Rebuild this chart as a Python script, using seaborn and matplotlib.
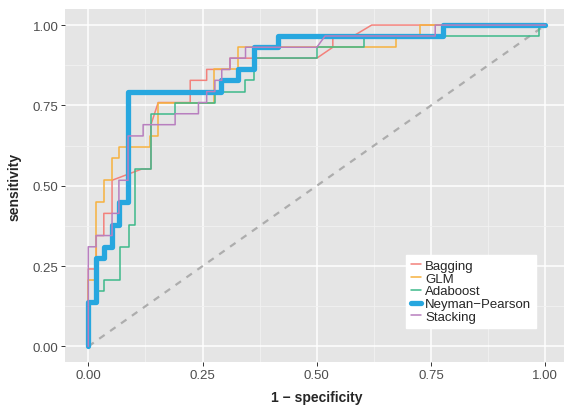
import matplotlib
matplotlib.use("Agg")
import pandas as pd
import matplotlib.pyplot as plt
import seaborn as sns

# curvas ROC (1 - especificidade, sensibilidade)
modelos = ['Bagging', 'GLM', 'Adaboost', 'Neyman−Pearson', 'Stacking']
cores = ['#F3817B', '#F6B23E', '#3DB98A', '#27A7DF', '#B87FBF']

bagging_x = [0, 0, 0.0175, 0.0175, 0.034, 0.034, 0.052, 0.052, 0.117, 0.137, 0.137, 0.153,
             0.223, 0.223, 0.259, 0.259, 0.31, 0.31, 0.5, 0.535, 0.535, 0.58, 0.62, 1]
bagging_y = [0, .241, .241, .345, .345, .414, .414, .517, .552, .552, .690, .759,
             .759, .828, .828, .862, .862, .897, .897, .931, .966, .966, 1, 1]

glm_x = [0, 0, 0.0175, 0.0175, 0.034, 0.034, 0.052, 0.052, 0.068, 0.068, 0.136, 0.136,
         0.153, 0.153, 0.276, 0.276, 0.327, 0.327, 0.673, 0.673, 0.725, 0.725, 1]
glm_y = [0, .207, .207, .448, .448, .517, .517, .586, .586, .621, .621, .655,
         .655, .759, .759, .862, .862, .931, .931, .966, .966, 1, 1]

ada_x = [0, 0, 0.0175, 0.0175, 0.0335, 0.0335, 0.069, 0.069, 0.088, 0.088, 0.103, 0.103,
         0.137, 0.137, 0.19, 0.19, 0.277, 0.277, 0.343, 0.343, 0.362, 0.362, 0.5, 0.5,
         0.604, 0.604, 0.985, 0.985, 1]
ada_y = [0, .138, .138, .172, .172, .207, .207, .310, .310, .379, .379, .552,
         .552, .724, .724, .759, .759, .793, .793, .828, .828, .897, .897, .931,
         .931, .966, .966, 1, 1]

np_x = [0, 0, 0.0175, 0.0175, 0.035, 0.035, 0.052, 0.052, 0.068, 0.068, 0.087, 0.087,
        0.29, 0.29, 0.328, 0.328, 0.362, 0.362, 0.415, 0.415, 0.776, 0.776, 1]
np_y = [0, .138, .138, .276, .276, .310, .310, .379, .379, .448, .448, .793,
        .793, .828, .828, .862, .862, .931, .931, .966, .966, 1, 1]

stack_x = [0, 0, 0.017, 0.017, 0.052, 0.052, 0.067, 0.067, 0.087, 0.087, 0.12, 0.12,
           0.19, 0.19, 0.241, 0.241, 0.259, 0.259, 0.277, 0.277, 0.292, 0.292, 0.31, 0.31,
           0.344, 0.344, 0.5, 0.518, 0.759, 0.759, 1]
stack_y = [0, .310, .310, .345, .345, .414, .414, .517, .517, .655, .655, .690,
           .690, .724, .724, .759, .759, .793, .793, .828, .828, .862, .862, .897,
           .897, .931, .931, .966, .966, 1, 1]

curvas = [(bagging_x, bagging_y), (glm_x, glm_y), (ada_x, ada_y), (np_x, np_y), (stack_x, stack_y)]
espessuras = [1.1, 1.1, 1.1, 3.8, 1.1]

diag_x = [0, 1]
diag_y = [0, 1]

sns.set_theme(style='darkgrid', rc={'axes.facecolor': '#E5E5E5',
                                    'grid.color': 'white',
                                    'axes.edgecolor': '#E5E5E5'})
plt.rcParams['font.family'] = ['Liberation Sans', 'DejaVu Sans']

fig = plt.figure(figsize=(5.64, 4.06), dpi=100)
ax = fig.add_axes([0.116, 0.1047, 0.8915, 0.8707])

sns.lineplot(x=diag_x, y=diag_y, ax=ax, color='#ADADAD', linewidth=1.6,
             linestyle=(0, (3, 3)), sort=False, estimator=None)

for nome, cor, lw, (xs, ys) in zip(modelos, cores, espessuras, curvas):
    df = pd.DataFrame({'fpr': xs, 'tpr': ys})
    sns.lineplot(data=df, x='fpr', y='tpr', ax=ax, color=cor, linewidth=lw,
                 sort=False, estimator=None, label=nome)

ax.set_xlim(-0.05, 1.05)
ax.set_ylim(-0.05, 1.05)
ticks = [0, 0.25, 0.5, 0.75, 1]
ax.set_xticks(ticks)
ax.set_yticks(ticks)
ax.set_xticklabels(['0.00', '0.25', '0.50', '0.75', '1.00'])
ax.set_yticklabels(['0.00', '0.25', '0.50', '0.75', '1.00'])
ax.set_xticks([0.125, 0.375, 0.625, 0.875], minor=True)
ax.set_yticks([0.125, 0.375, 0.625, 0.875], minor=True)
ax.grid(which='major', color='white', linewidth=1.1)
ax.grid(which='minor', color='#F2F2F2', linewidth=0.6)
ax.tick_params(which='major', length=3, width=0.7, color='#333333',
               labelsize=9.5, labelcolor='#4D4D4D', pad=2, bottom=True, left=True)
ax.tick_params(which='minor', length=0)
for s in ax.spines.values():
    s.set_visible(False)

ax.set_xlabel('1 − specificity', fontsize=10, fontweight='bold', labelpad=6)
ax.set_ylabel('sensitivity', fontsize=10, fontweight='bold', labelpad=8)

leg = ax.legend(loc='upper left', bbox_to_anchor=(406 / 564, 1 - 256 / 406),
                bbox_transform=fig.transFigure, borderaxespad=0, frameon=True,
                fancybox=False, fontsize=9.5, handlelength=0.8, handletextpad=0.3,
                labelspacing=0.04, borderpad=0.35)
leg.get_frame().set_facecolor('white')
leg.get_frame().set_edgecolor('white')
leg.get_frame().set_alpha(1)

fig.savefig('out.png', dpi=100)
